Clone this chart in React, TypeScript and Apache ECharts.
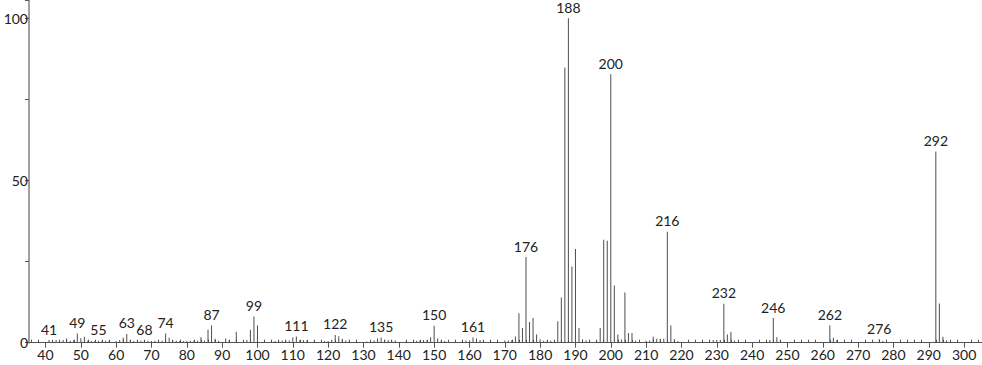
import React, { useEffect, useRef } from "react";
import * as echarts from "echarts";

// m/z values and relative intensities
const masses = [
  41, 42, 43, 44, 45, 46, 47, 48, 49, 50, 51, 52, 53, 54, 55, 56, 57, 58, 60, 61, 62, 63, 64, 65, 66, 67, 68, 69, 70,
  71, 72, 73, 74, 75, 76, 77, 78, 79, 80, 81, 82, 83, 84, 85, 86, 87, 88, 89, 91, 92, 94, 97, 98, 99, 100, 102,
  104, 105, 106, 107, 108, 109, 110, 111, 112, 113, 114, 116, 119, 120, 121, 122, 123, 124, 125, 126,
  128, 131, 133, 134, 135, 136, 137, 138, 139, 142, 145, 146, 147, 148, 149, 150, 151, 152, 153,
  156, 158, 159, 160, 161, 162, 163, 164, 166, 170, 171, 172, 173, 174, 175, 176, 177, 178, 179, 180,
  181, 182, 183, 185, 186, 187, 188, 189, 190, 191, 192, 193, 194, 196, 197, 198, 199, 200, 201, 202,
  203, 204, 205, 206, 207, 210, 211, 212, 213, 214, 215, 216, 217, 218, 219, 229, 230, 231, 232, 233,
  234, 235, 245, 246, 247, 248, 262, 263, 264, 276, 277, 292, 293, 294, 295,
];
const intensities = [
  0.8, 0.6, 0.8, 0.6, 0.8, 1.3, 0.6, 0.8, 2.8, 1.4, 1.8, 0.6, 0.5, 0.5, 0.6, 0.5, 0.6, 0.5, 0.5, 0.8, 1.5, 2.7, 0.8, 0.5, 0.6, 0.6, 0.6, 0.6, 0.5,
  0.6, 0.5, 0.6, 2.8, 1.5, 0.8, 0.6, 0.5, 0.5, 0.5, 0.6, 0.6, 0.6, 1.7, 0.6, 4.0, 5.3, 1.2, 0.6, 1.3, 0.8, 3.4, 0.8, 4.0, 8.1, 5.3, 0.7,
  0.5, 0.5, 0.6, 0.7, 0.7, 0.7, 1.6, 1.9, 0.8, 0.8, 0.7, 0.4, 0.5, 0.5, 0.9, 2.4, 2.0, 1.2, 0.7, 0.7,
  0.4, 0.4, 0.7, 1.3, 1.6, 0.8, 0.8, 0.7, 0.7, 0.4, 0.5, 0.7, 0.8, 0.8, 1.7, 5.2, 1.3, 0.7, 0.5,
  0.4, 0.6, 0.7, 0.7, 1.6, 1.3, 0.8, 0.5, 0.4, 0.7, 0.7, 0.8, 1.9, 9.1, 4.5, 26.4, 6.4, 7.6, 2.5, 1.1,
  0.6, 0.6, 0.6, 6.6, 13.9, 84.8, 100, 23.5, 28.9, 4.5, 1.0, 0.7, 0.7, 0.5, 4.5, 31.7, 31.4, 82.7, 17.6, 2.5,
  1.0, 15.5, 3.0, 3.0, 0.6, 0.6, 0.7, 1.8, 1.2, 1.2, 1.2, 34.2, 5.3, 1.1, 0.5, 0.8, 0.8, 0.8, 12.0, 2.5,
  3.3, 0.7, 0.8, 7.6, 1.7, 0.8, 5.3, 1.5, 0.8, 1.1, 0.5, 58.9, 12.1, 1.8, 0.7,
];
const labelledMasses = [41, 49, 55, 63, 68, 74, 87, 99, 111, 122, 135, 150, 161, 176, 188, 200, 216, 232, 246, 262, 276, 292];
const xTickValues = [40, 50, 60, 70, 80, 90, 100, 110, 120, 130, 140, 150, 160, 170, 180, 190, 200, 210, 220, 230, 240, 250, 260, 270, 280, 290, 300];
const xMinorTickValues = [
  36, 38, 42, 44, 46, 48, 52, 54, 56, 58, 62, 64, 66, 68, 72, 74, 76, 78, 82, 84, 86, 88, 92, 94, 96, 98,
  102, 104, 106, 108, 112, 114, 116, 118, 122, 124, 126, 128, 132, 134, 136, 138, 142, 144, 146, 148,
  152, 154, 156, 158, 162, 164, 166, 168, 172, 174, 176, 178, 182, 184, 186, 188, 192, 194, 196, 198,
  202, 204, 206, 208, 212, 214, 216, 218, 222, 224, 226, 228, 232, 234, 236, 238, 242, 244, 246, 248,
  252, 254, 256, 258, 262, 264, 266, 268, 272, 274, 276, 278, 282, 284, 286, 288, 292, 294, 296, 298, 302, 304,
];
const yLabelValues = [0, 50, 100];

const FONT = "Lato";
const FONT_SIZE = 14;

export default function App() {
  const ref = useRef<HTMLDivElement>(null);
  useEffect(() => {
    if (!ref.current) return;
    const chart = echarts.init(ref.current, null, { renderer: "svg" });
    const data = masses.map((m, i) => {
      const item: any = { value: [m, intensities[i]] };
      if (labelledMasses.includes(m)) item.label = { show: true };
      return item;
    });
    chart.setOption({
      animation: false,
      backgroundColor: "#ffffff",
      grid: { left: 29, right: 0, top: 0, bottom: 22.3, containLabel: false, outerBoundsMode: "none" },
      xAxis: [
        {
          type: "value",
          min: 35.33,
          max: 305.07,
          position: "bottom",
          axisLine: { show: true, onZero: false, lineStyle: { color: "#555", width: 1 } },
          axisTick: { show: true, inside: false, length: 5, customValues: xTickValues, lineStyle: { color: "#555", width: 1 } },
          axisLabel: { show: true, customValues: xTickValues, margin: 5, color: "#222", fontFamily: FONT, fontSize: FONT_SIZE },
          splitLine: { show: false },
        },
        {
          type: "value",
          min: 35.33,
          max: 305.07,
          position: "bottom",
          axisLine: { show: false, onZero: false },
          axisTick: { show: true, inside: true, length: 3, customValues: xMinorTickValues, lineStyle: { color: "#555", width: 1 } },
          axisLabel: { show: false },
          splitLine: { show: false },
        },
      ],
      yAxis: {
        type: "value",
        min: 0,
        max: 105.6,
        interval: 25,
        axisLine: { show: true, lineStyle: { color: "#a0a0a0", width: 2 } },
        axisTick: { show: true, inside: false, length: 4, lineStyle: { color: "#555", width: 1 } },
        axisLabel: {
          show: true,
          customValues: yLabelValues,
          margin: 1,
          color: "#222",
          fontFamily: FONT,
          fontSize: FONT_SIZE,
        },
        splitLine: { show: false },
      },
      series: [
        {
          type: "bar",
          xAxisIndex: 0,
          barWidth: 1,
          itemStyle: { color: "#4d4d4d" },
          label: {
            show: false,
            position: "top",
            distance: 4,
            color: "#222",
            fontFamily: FONT,
            fontSize: FONT_SIZE,
            formatter: (p: any) => String(p.value[0]),
          },
          data,
        },
      ],
    });
    return () => chart.dispose();
  }, []);
  return <div ref={ref} style={{ position: "fixed", left: 0, top: 0, width: 982, height: 365 }} />;
}
